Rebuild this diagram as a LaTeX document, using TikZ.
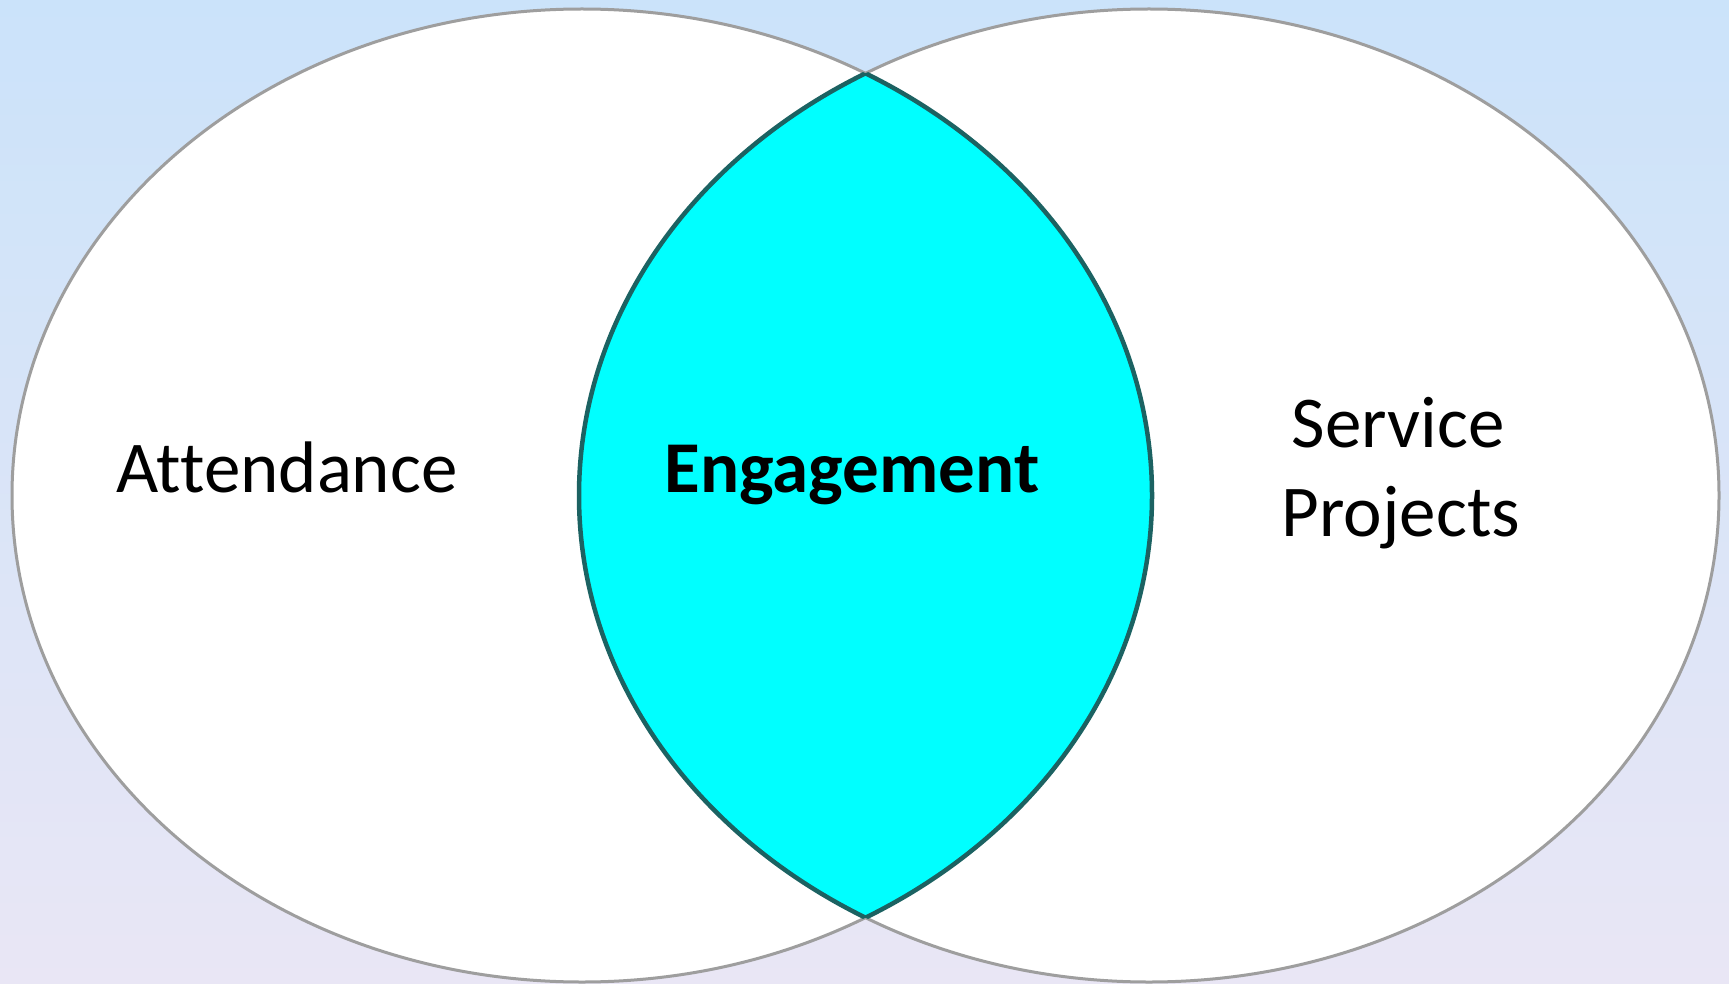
\documentclass[tikz,border=0pt]{standalone}
\usepackage{fontspec}
\setmainfont[RawFeature={-liga;-clig}]{Carlito}
\definecolor{bgtop}{RGB}{203,227,250}
\definecolor{bgbot}{RGB}{233,230,245}
\definecolor{ringgray}{RGB}{158,158,158}
\definecolor{lensline}{RGB}{28,98,98}
\definecolor{lensfill}{RGB}{0,255,255}
\tikzset{
  ring/.style={draw=ringgray, line width=3pt},
  lensedge/.style={draw=lensline, line width=4.5pt},
  lbl/.style={anchor=base, inner sep=0pt, font=\fontsize{73}{89}\selectfont},
  lft/.style={x radius=570pt, y radius=486.5pt},
}
\begin{document}
\begin{tikzpicture}[x=1pt,y=-1pt]
\useasboundingbox (0,0) rectangle (1729,984);
\shade[top color=bgtop, bottom color=bgbot] (0,0) rectangle (1729,984);
\coordinate (cl) at (582,495.5);
\coordinate (cr) at (1149,495.5);
\fill[white] (cl) ellipse [lft];
\fill[white] (cr) ellipse [lft];
\draw[ring] (cl) ellipse [lft];
\draw[ring] (cr) ellipse [lft];
\begin{scope}
  \clip (cl) ellipse [lft];
  \fill[lensfill] (cr) ellipse [lft];
  \draw[lensedge] (cr) ellipse [lft];
\end{scope}
\begin{scope}
  \clip (cr) ellipse [lft];
  \draw[lensedge] (cl) ellipse [lft];
\end{scope}
\node[lbl] (att) at (287,492) {Attendance};
\node[lbl, font=\fontsize{73}{89}\selectfont\bfseries] (eng) at (852,492) {Engagement};
\node[lbl] (sp1) at (1398,447) {Service};
\node[lbl] (sp2) at (1401,536) {Projects};
\end{tikzpicture}
\end{document}
